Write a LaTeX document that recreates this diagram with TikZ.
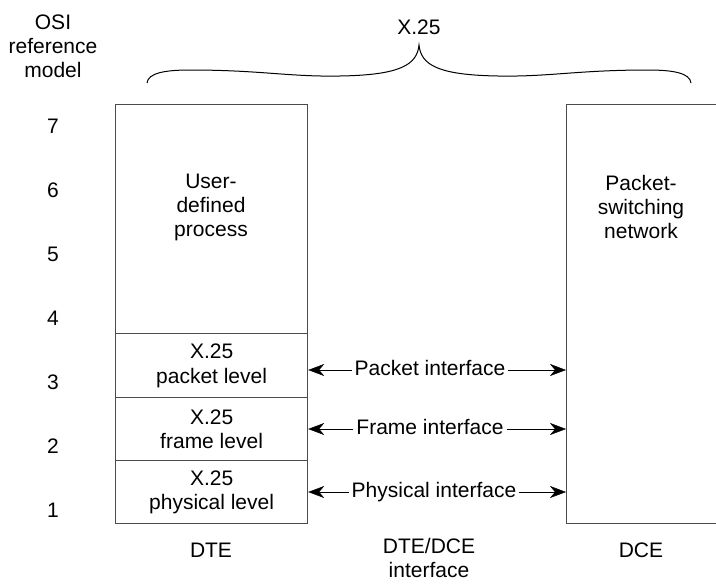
\documentclass[tikz,border=0pt]{standalone}
\usepackage{fontspec}
\setmainfont{Liberation Sans}
\usetikzlibrary{arrows.meta}

\tikzset{
  lbl/.style={font=\fontsize{21}{24}\selectfont, align=center, inner sep=0pt},
  layer/.style={draw=black!70, line width=1.2pt, minimum width=192pt, anchor=north west,
    inner sep=0pt, font=\fontsize{21}{24.5}\selectfont, align=center},
  iface/.style={font=\fontsize{21}{24.5}\selectfont, inner sep=3pt, text height=14pt, text depth=4pt}
}

\begin{document}
\begin{tikzpicture}[x=1pt,y=-1pt,>={Stealth[length=16pt,width=12pt,inset=5pt]}]
\useasboundingbox (0,0) rectangle (716,584);
\clip (0,0) rectangle (716,584);
% OSI layer numbers
\node[lbl] (osi) at (53,46) {OSI\\reference\\model};
\foreach \n in {1,...,7}
  \node[lbl] (n\n) at (53,574-64*\n) {\n};
% X.25 brace
\node[lbl] (x25) at (419,27) {X.25};
\coordinate (tip) at (419,45);
\draw[line width=1pt] (147,83) .. controls (148,73) and (165,70) .. (190,70)
  .. controls (260,70) and (290,77) .. (340,76)
  .. controls (400,75) and (417,65) .. (tip)
  .. controls (421,65) and (438,75) .. (498,76)
  .. controls (548,77) and (578,70) .. (648,70)
  .. controls (673,70) and (690,73) .. (691,83);
% DTE side
\node[layer, minimum height=229pt] (proc) at (115,104) {};
\node[layer, minimum height=64pt] (pkt) at (115,333) {X.25\\packet level};
\node[layer, minimum height=63pt] (frm) at (115,397) {X.25\\frame level};
\node[layer, minimum height=63pt] (phy) at (115,460) {X.25\\physical level};
\node[lbl] (user) at (211,207) {User-\\defined\\process};
% DCE side
\node[layer, minimum width=170pt, minimum height=419pt] (dce) at (566,104) {};
\node[lbl] (net) at (641,207) {Packet-\\switching\\network};
% interfaces
\node[iface] (ptxt) at (430,370) {Packet interface};
\node[iface] (ftxt) at (430,429) {Frame interface};
\node[iface] (ytxt) at (434,492) {Physical interface};
\draw[->] (ptxt.west) -- (ptxt.west -| pkt.east);
\draw[->] (ptxt.east) -- (ptxt.east -| dce.west);
\draw[->] (ftxt.west) -- (ftxt.west -| frm.east);
\draw[->] (ftxt.east) -- (ftxt.east -| dce.west);
\draw[->] (ytxt.west) -- (ytxt.west -| phy.east);
\draw[->] (ytxt.east) -- (ytxt.east -| dce.west);
% bottom captions
\node[lbl] (dte) at (211,550) {DTE};
\node[lbl] (dtedce) at (429,558) {DTE/DCE\\interface};
\node[lbl] (dcelbl) at (641,550) {DCE};
\end{tikzpicture}
\end{document}
